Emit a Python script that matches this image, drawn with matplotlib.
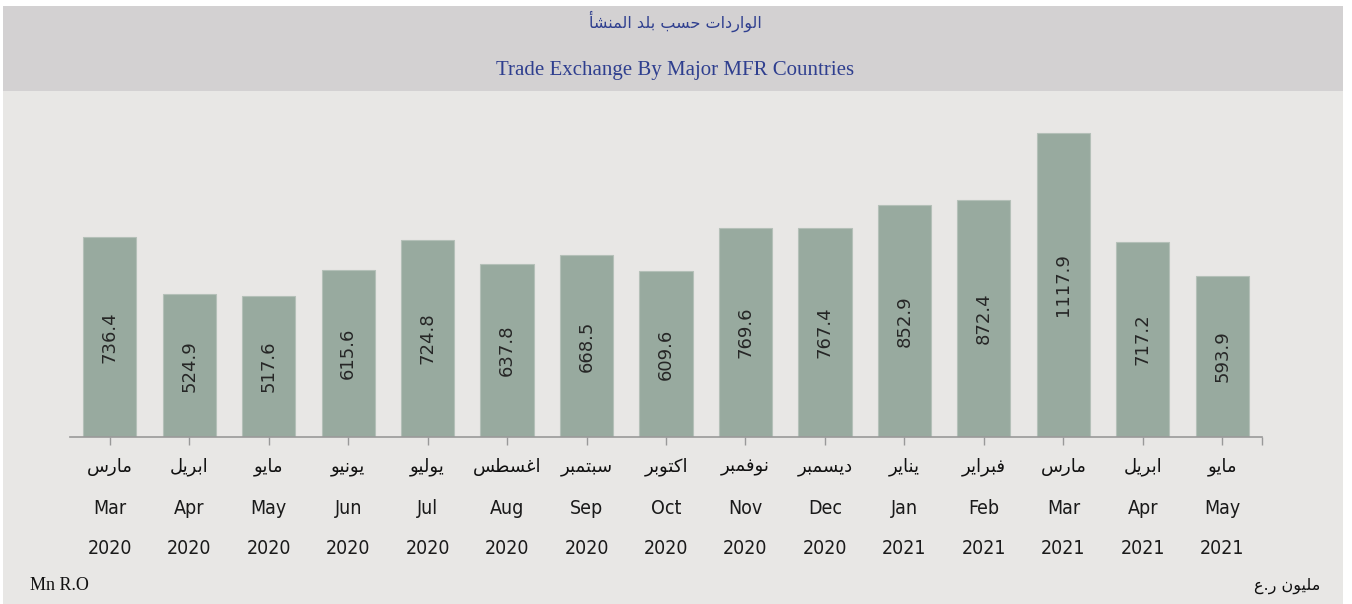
import matplotlib
matplotlib.use('Agg')
import matplotlib.pyplot as plt
import matplotlib.transforms as mtransforms
from matplotlib import font_manager
from matplotlib.patches import Rectangle

# data
values = [736.4, 524.9, 517.6, 615.6, 724.8, 637.8, 668.5, 609.6, 769.6, 767.4, 852.9, 872.4, 1117.9, 717.2, 593.9]
months_en = ['Mar', 'Apr', 'May', 'Jun', 'Jul', 'Aug', 'Sep', 'Oct', 'Nov', 'Dec', 'Jan', 'Feb', 'Mar', 'Apr', 'May']
months_ar = ['مارس', 'ابريل', 'مايو', 'يونيو', 'يوليو', 'اغسطس', 'سبتمبر', 'اكتوبر', 'نوفمبر', 'ديسمبر',
             'يناير', 'فبراير', 'مارس', 'ابريل', 'مايو']
years = ['2020'] * 10 + ['2021'] * 5

title_ar = 'الواردات حسب بلد المنشأ'
title_en = 'Trade Exchange By Major MFR Countries'
unit_en = 'Mn R.O'
unit_ar = 'مليون ر.ع'

# matplotlib does no arabic shaping, so map letters to presentation forms
# (isolated, final, initial, medial)
FORMS = {
    'ا': (0xFE8D, 0xFE8E), 'أ': (0xFE83, 0xFE84), 'د': (0xFEA9, 0xFEAA),
    'ر': (0xFEAD, 0xFEAE), 'و': (0xFEED, 0xFEEE),
    'ب': (0xFE8F, 0xFE90, 0xFE91, 0xFE92), 'ت': (0xFE95, 0xFE96, 0xFE97, 0xFE98),
    'ح': (0xFEA1, 0xFEA2, 0xFEA3, 0xFEA4), 'س': (0xFEB1, 0xFEB2, 0xFEB3, 0xFEB4),
    'ش': (0xFEB5, 0xFEB6, 0xFEB7, 0xFEB8), 'ط': (0xFEC1, 0xFEC2, 0xFEC3, 0xFEC4),
    'ع': (0xFEC9, 0xFECA, 0xFECB, 0xFECC), 'غ': (0xFECD, 0xFECE, 0xFECF, 0xFED0),
    'ف': (0xFED1, 0xFED2, 0xFED3, 0xFED4), 'ك': (0xFED9, 0xFEDA, 0xFEDB, 0xFEDC),
    'ل': (0xFEDD, 0xFEDE, 0xFEDF, 0xFEE0), 'م': (0xFEE1, 0xFEE2, 0xFEE3, 0xFEE4),
    'ن': (0xFEE5, 0xFEE6, 0xFEE7, 0xFEE8), 'ي': (0xFEF1, 0xFEF2, 0xFEF3, 0xFEF4),
}


def shape(word):
    out = []
    for i, ch in enumerate(word):
        f = FORMS.get(ch)
        if f is None:
            out.append(ch)
            continue
        prev = word[i - 1] if i > 0 else ''
        nxt = word[i + 1] if i + 1 < len(word) else ''
        join_prev = prev in FORMS and len(FORMS[prev]) == 4
        join_next = nxt in FORMS and len(f) == 4
        idx = (1 if join_prev else 0) + (2 if join_next else 0)
        out.append(chr(f[idx]))
    return ''.join(reversed(out))


# the month labels use a narrow face; take a condensed one if there is one
cond = font_manager.FontProperties(family='DejaVu Sans', stretch='condensed')
if 'ondensed' in font_manager.findfont(cond, fallback_to_default=False):
    label_font = dict(family='DejaVu Sans', stretch='condensed', fontsize=14)
else:
    label_font = dict(family='Liberation Sans', fontsize=13.5)

W, H = 1352, 604
fig = plt.figure(figsize=(W / 100, H / 100), dpi=100)
fig.patch.set_facecolor('white')

# backgrounds
fig.patches.append(Rectangle((3 / W, 0), (1343 - 3) / W, 1 - 91 / H, transform=fig.transFigure,
                             facecolor='#e8e7e5', edgecolor='none', zorder=-2))
fig.patches.append(Rectangle((3 / W, 1 - 91 / H), (1343 - 3) / W, (91 - 6) / H, transform=fig.transFigure,
                             facecolor='#d3d1d2', edgecolor='none', zorder=-2))

blue = '#2f3f8f'
fig.text(675 / W, 1 - 21 / H, shape(title_ar), family='DejaVu Sans', fontsize=11.5, color=blue,
         ha='center', va='center')
fig.text(675 / W, 1 - 70 / H, title_en, family='Liberation Serif', fontsize=15, color=blue,
         ha='center', va='center')

# axes: baseline at 437px, 0.2719 px per unit
ymax = 1250
base = 437
top = base - ymax * 0.2719
ax = fig.add_axes([70 / W, 1 - base / H, (1262 - 70) / W, (base - top) / H])
ax.set_facecolor('none')

x = list(range(len(values)))
ax.bar(x, values, width=0.67, color='#98aa9f', edgecolor='#b4c0b8', linewidth=0.8)
for xi, v in zip(x, values):
    ax.text(xi, v / 2, f'{v:.1f}', rotation=90, ha='center', va='center',
            fontsize=13, color='#262626', family='DejaVu Sans')

ax.set_xlim(-0.5, len(values) - 0.5)
ax.set_ylim(0, ymax)
for s in ['top', 'right', 'left']:
    ax.spines[s].set_visible(False)
ax.spines['bottom'].set_color('#999999')
ax.spines['bottom'].set_linewidth(1.2)
ax.set_yticks([])
ax.set_xticks(x)
ax.set_xticks([len(values) - 0.5], minor=True)
ax.tick_params(axis='x', which='both', length=6, width=1, color='#999999', labelbottom=False)

trans = mtransforms.blended_transform_factory(ax.transData, fig.transFigure)
for xi, ar, en, yr in zip(x, months_ar, months_en, years):
    ax.text(xi, 1 - 467 / H, shape(ar), transform=trans, ha='center', va='center',
            fontsize=13, family='DejaVu Sans', color='#111111')
    ax.text(xi, 1 - 508 / H, en, transform=trans, ha='center', va='center',
            color='#1a1a1a', **label_font)
    ax.text(xi, 1 - 549 / H, yr, transform=trans, ha='center', va='center',
            color='#1a1a1a', **label_font)

fig.text(30 / W, 1 - 586 / H, unit_en, family='Liberation Serif', fontsize=13, color='#111111',
         ha='left', va='center')
fig.text(1320 / W, 1 - 586 / H, shape(unit_ar), family='DejaVu Sans', fontsize=11.5, color='#111111',
         ha='right', va='center')

fig.savefig('out.png', dpi=100)
